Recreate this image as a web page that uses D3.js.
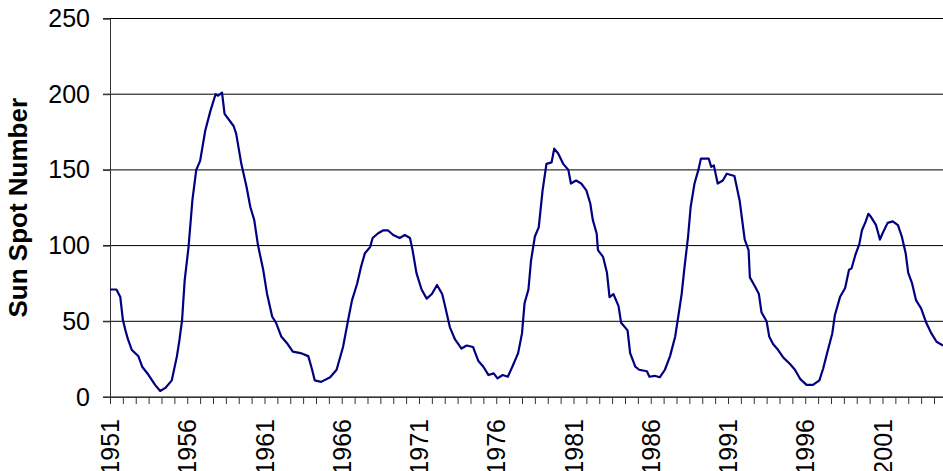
<!DOCTYPE html>
<html>
<head>
<meta charset="utf-8">
<script src="https://cdn.jsdelivr.net/npm/d3@7"></script>
<style>
  body { margin: 0; background: #fff; }
  svg { display: block; font-family: Arial, "Liberation Sans", sans-serif; }
</style>
</head>
<body>
<div id="chart"></div>
<script>
// month index counted from Jan 1951, smoothed sunspot number
var months = [0, 5, 8, 10, 12, 14, 17, 22, 25, 30, 35, 39, 43, 48, 52, 54, 56, 58, 61, 64,
  67, 70, 74, 78, 82, 84, 87, 89, 96, 98, 102, 106, 109, 112, 115, 119, 122, 126, 129, 133,
  138, 142, 148, 154, 157, 159, 164, 171, 176, 181, 185, 188, 192, 195, 198, 202, 204, 208, 212, 216,
  220, 225, 229, 233, 235, 238, 242, 246, 250, 254, 258, 260, 264, 268, 273, 277, 282, 286, 290, 294,
  298, 301, 305, 309, 313, 317, 320, 322, 325, 327, 330, 333, 336, 339, 343, 345, 348, 352, 356, 358,
  362, 366, 370, 373, 375, 378, 379, 383, 386, 388, 391, 395, 397, 402, 404, 408, 411, 417, 419, 423,
  427, 431, 435, 439, 441, 444, 446, 449, 451, 454, 457, 459, 465, 467, 469, 472, 476, 479, 485, 489,
  493, 496, 497, 501, 504, 506, 510, 512, 515, 519, 523, 528, 532, 536, 541, 546, 551, 554, 557, 561,
  563, 567, 571, 574, 576, 579, 582, 584, 587, 589, 591, 595, 598, 600, 604, 608, 612, 615, 618, 620,
  623, 626, 630, 634, 638, 642, 647];
var sunspots = [71, 71, 66, 51, 44, 38, 31, 27, 20, 14.5, 8, 4, 6, 11, 27, 38, 51, 77, 99, 130,
  150, 156, 176, 189, 200, 199, 201, 187, 179, 174, 154, 139, 125.5, 117, 100, 84, 68, 53, 49, 40,
  35, 30, 29, 27, 18, 11, 10, 13, 18, 33, 51, 64, 75, 86, 95, 99, 105, 108, 110, 110,
  107, 105, 107, 105, 97, 82, 71, 65, 68, 74, 68, 61, 46, 38, 32, 34, 33, 24, 20, 14.5,
  15.6, 12.3, 14.5, 13.4, 21, 29, 42, 62, 71, 90, 106, 112, 136.5, 154, 155, 164, 161, 154, 150, 141,
  143, 141, 136.5, 128, 117, 108, 97, 92.5, 82, 66, 68, 60, 49, 44, 29, 20, 18, 17, 13.4, 14,
  13, 18, 27, 40, 51, 68, 84, 106, 125.5, 141, 150, 157.5, 157.5, 152, 153, 141, 143, 147.5, 146, 130,
  104, 97, 79, 73, 68, 56, 50, 40, 35, 31, 26, 22, 18, 12, 8, 8, 11, 19, 29, 42,
  54, 66, 72, 84, 85, 94, 101, 110, 116, 121, 119, 113.5, 104, 108, 115, 116, 113.5, 106, 95, 82,
  75, 64, 58.5, 49, 42, 36.5, 34];

var yTicks = [0, 50, 100, 150, 200, 250];
var startYear = 1951;
var monthsShown = 647;

var svgWidth = 943;
var svgHeight = 471;
var margin = { top: 18.5, right: 0, bottom: 74, left: 110 };
var width = svgWidth - margin.left - margin.right;
var height = svgHeight - margin.top - margin.bottom;

var svg = d3.select("#chart")
  .append("svg")
  .attr("width", svgWidth)
  .attr("height", svgHeight);

var chartGroup = svg.append("g")
  .attr("transform", `translate(${margin.left}, ${margin.top})`);

var xScale = d3.scaleLinear()
  .domain([0, monthsShown])
  .range([0, width]);

var yScale = d3.scaleLinear()
  .domain([0, 250])
  .range([height, 0]);

// horizontal gridlines
chartGroup.append("g")
  .selectAll("line")
  .data(yTicks)
  .enter()
  .append("line")
  .attr("x1", -7)
  .attr("x2", width)
  .attr("y1", d => yScale(d))
  .attr("y2", d => yScale(d))
  .attr("stroke", "#000")
  .attr("stroke-width", 1);

// y axis
var leftAxis = d3.axisLeft(yScale)
  .tickValues(yTicks)
  .tickSize(7)
  .tickPadding(13);

var yAxis = chartGroup.append("g").call(leftAxis);
yAxis.select(".domain").attr("stroke", "#333");
yAxis.selectAll(".tick line").attr("stroke", "#333");
yAxis.selectAll("text")
  .attr("font-size", "25px")
  .attr("fill", "#000")
  .attr("font-family", "Arial, 'Liberation Sans', sans-serif");

// x axis: a tick every 10 months, a label every 5 years
var bottomAxis = d3.axisBottom(xScale)
  .tickValues(d3.range(0, monthsShown, 10))
  .tickSize(7)
  .tickSizeOuter(0)
  .tickFormat(m => m % 60 === 0 ? String(startYear + m / 12) : "");

var xAxis = chartGroup.append("g")
  .attr("transform", `translate(0, ${height})`)
  .call(bottomAxis);
xAxis.select(".domain").attr("stroke", "#333");
xAxis.selectAll(".tick line").attr("stroke", "#333");
xAxis.selectAll("text")
  .attr("transform", "rotate(-90)")
  .attr("x", -22)
  .attr("y", 0)
  .attr("dy", "0.35em")
  .attr("text-anchor", "end")
  .attr("font-size", "25px")
  .attr("fill", "#000")
  .attr("font-family", "Arial, 'Liberation Sans', sans-serif");

// sunspot line
var line = d3.line()
  .x((d, i) => xScale(months[i]))
  .y(d => yScale(d));

chartGroup.append("path")
  .datum(sunspots)
  .attr("d", line)
  .attr("fill", "none")
  .attr("stroke", "#000080")
  .attr("stroke-width", 2.2)
  .attr("stroke-linejoin", "round");

// y axis title
svg.append("text")
  .attr("transform", `translate(27, ${margin.top + height / 2}) rotate(-90)`)
  .attr("text-anchor", "middle")
  .attr("font-size", "26px")
  .attr("font-weight", "bold")
  .attr("fill", "#000")
  .text("Sun Spot Number");
</script>
</body>
</html>
